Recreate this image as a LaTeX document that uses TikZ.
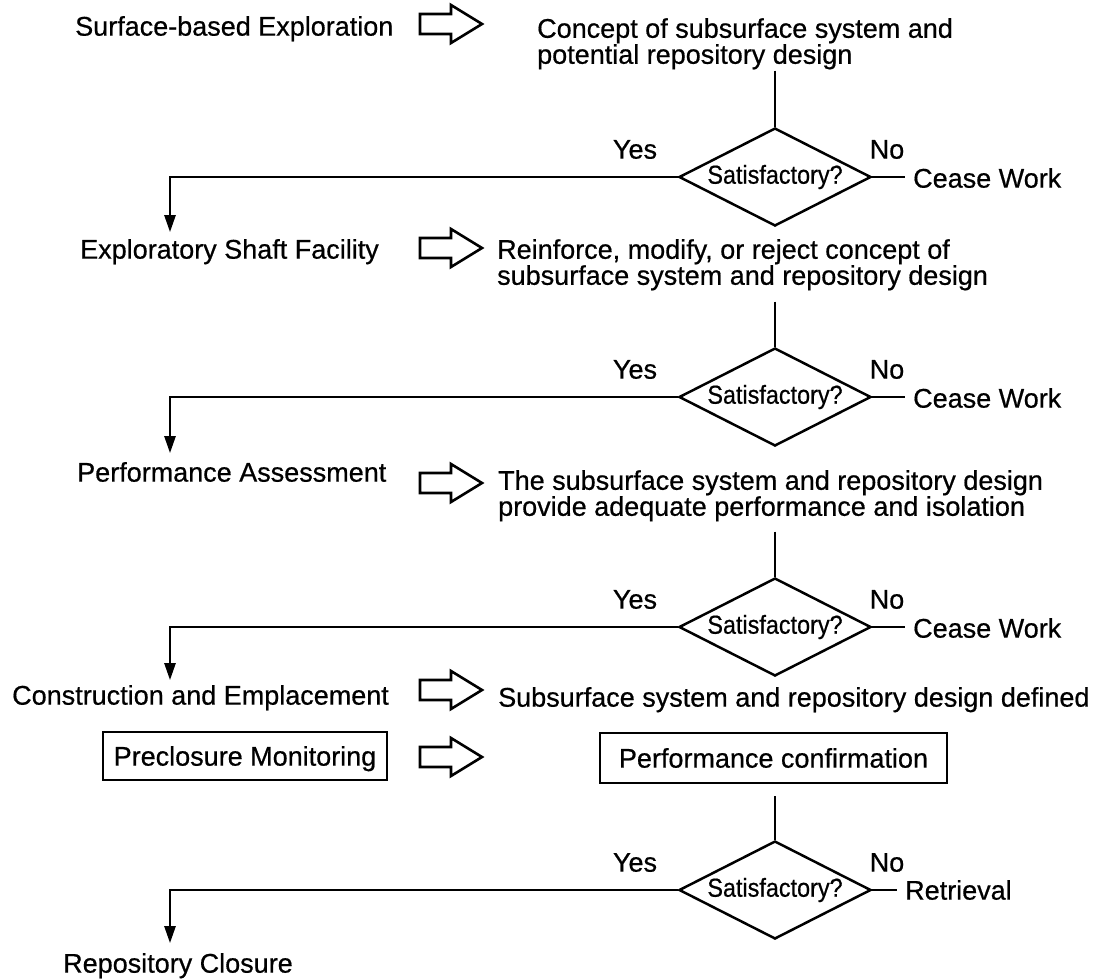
\documentclass[tikz,border=0pt]{standalone}
\usepackage{fontspec}
\setmainfont[FakeBold=0.6]{Liberation Sans}
\newfontfamily\narrowfont[FakeStretch=0.9,FakeBold=0.6]{Liberation Sans}
\usetikzlibrary{shapes.geometric,arrows.meta,calc}
\tikzset{
  big/.style={font=\fontsize{27}{26}\selectfont},
  lbl/.style={big, inner sep=0pt, text height=19.3pt, text depth=0pt},
  two/.style={big, inner sep=0pt, align=left, anchor=north west},
  dec/.style={diamond, draw, line width=2.5pt, aspect=2, minimum width=192pt,
    minimum height=98pt, inner sep=0pt, font=\narrowfont\fontsize{26}{26}\selectfont},
  framebox/.style={big, draw, line width=2.5pt, inner sep=0pt, text height=19.3pt, text depth=0pt},
  ln/.style={line width=2.5pt},
  arr/.style={ln, -{Triangle[length=17pt,width=11pt]}},
  harrow/.pic={\draw[line width=2.6pt, line join=miter]
    (0,-10)--(31,-10)--(31,-19)--(62,0)--(31,19)--(31,10)--(0,10)--cycle;}
}
\begin{document}
\begin{tikzpicture}[x=1pt,y=-1pt]
\useasboundingbox (0,0) rectangle (1101,980);
\coordinate (xcol) at (170,0);

% stage 1
\node[lbl, anchor=west] (t1) at (75,26) {Surface-based Exploration};
\pic at (420,24) {harrow};
\node[two] (c1) at (537,18) {Concept of subsurface system and\\potential repository design};
\node[dec] (d1) at (775,177) {Satisfactory?};
\node[lbl] (y1) at ($(d1)+(-140,-28)$) {Yes};
\node[lbl] (n1) at ($(d1)+(112,-28)$) {No};
\node[lbl, anchor=west] (s1) at (913,178) {Cease Work};
\draw[ln, shorten <=1pt] (c1.south -| d1.north) -- (d1.north);
\draw[ln, shorten >=8pt] (d1.east) -- (s1.west |- d1.east);

% stage 2
\node[lbl, anchor=west] (t2) at (80,249) {Exploratory Shaft Facility};
\draw[arr, shorten >=7pt] (d1.west) -| (t2.north -| xcol);
\pic at (420,248) {harrow};
\node[two] (c2) at (497,239) {Reinforce, modify, or reject concept of\\subsurface system and repository design};
\node[dec] (d2) at (775,397) {Satisfactory?};
\node[lbl] (y2) at ($(d2)+(-140,-28)$) {Yes};
\node[lbl] (n2) at ($(d2)+(112,-28)$) {No};
\node[lbl, anchor=west] (s2) at (913,398) {Cease Work};
\draw[ln, shorten <=11pt] (c2.south -| d2.north) -- (d2.north);
\draw[ln, shorten >=8pt] (d2.east) -- (s2.west |- d2.east);

% stage 3
\node[lbl, anchor=west] (t3) at (77,472) {Performance Assessment};
\draw[arr, shorten >=9pt] (d2.west) -| (t3.north -| xcol);
\pic at (420,483) {harrow};
\node[two] (c3) at (498,470) {The subsurface system and repository design\\provide adequate performance and isolation};
\node[dec] (d3) at (775,627) {Satisfactory?};
\node[lbl] (y3) at ($(d3)+(-140,-28)$) {Yes};
\node[lbl] (n3) at ($(d3)+(112,-28)$) {No};
\node[lbl, anchor=west] (s3) at (913,628) {Cease Work};
\draw[ln, shorten <=10pt] (c3.south -| d3.north) -- (d3.north);
\draw[ln, shorten >=8pt] (d3.east) -- (s3.west |- d3.east);

% stage 4
\node[lbl, anchor=west] (t4) at (12,695) {Construction and Emplacement};
\draw[arr, shorten >=5pt] (d3.west) -| (t4.north -| xcol);
\pic at (420,690) {harrow};
\node[lbl, anchor=west] (c4) at (498,697) {Subsurface system and repository design defined};

\node[framebox, minimum width=284pt, minimum height=48pt] (b1) at (245,756) {Preclosure Monitoring};
\pic at (420,757) {harrow};
\node[framebox, minimum width=347pt, minimum height=50pt] (b2) at (773.5,758) {Performance confirmation};
\node[dec] (d4) at (775,890) {Satisfactory?};
\node[lbl] (y4) at ($(d4)+(-140,-28)$) {Yes};
\node[lbl] (n4) at ($(d4)+(112,-28)$) {No};
\node[lbl, anchor=west] (s4) at (905,890) {Retrieval};
\draw[ln, shorten <=12pt] (b2.south -| d4.north) -- (d4.north);
\draw[ln, shorten >=8pt] (d4.east) -- (s4.west |- d4.east);

\node[lbl, anchor=west] (t5) at (63,963) {Repository Closure};
\draw[arr, shorten >=10pt] (d4.west) -| (t5.north -| xcol);
\end{tikzpicture}
\end{document}
